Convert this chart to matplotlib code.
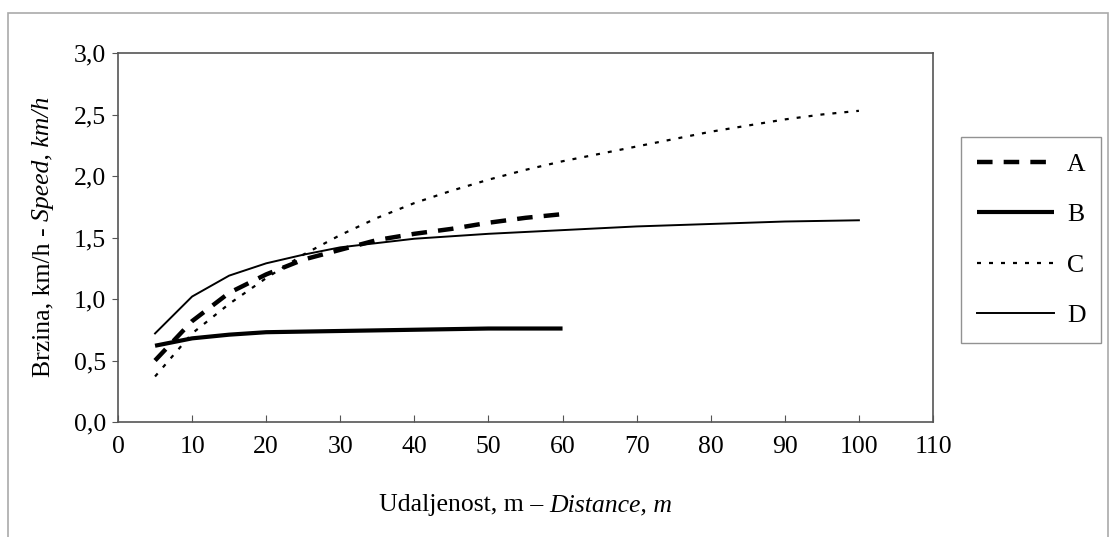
import matplotlib
matplotlib.use("Agg")
import matplotlib.pyplot as plt
from matplotlib.patches import Rectangle

plt.rcParams['font.family'] = ['Liberation Serif', 'DejaVu Serif']

x_a = [5, 10, 15, 20, 25, 30, 35, 40, 45, 50, 55, 60]
y_a = [0.50, 0.82, 1.05, 1.20, 1.32, 1.40, 1.48, 1.53, 1.57, 1.62, 1.66, 1.69]

x_b = [5, 10, 15, 20, 30, 40, 50, 60]
y_b = [0.62, 0.68, 0.71, 0.73, 0.74, 0.75, 0.76, 0.76]

x_c = [5, 10, 15, 20, 25, 30, 35, 40, 45, 50, 55, 60, 65, 70, 75, 80, 85, 90, 95, 100]
y_c = [0.37, 0.72, 0.96, 1.17, 1.36, 1.52, 1.66, 1.78, 1.88, 1.97, 2.05, 2.12,
       2.18, 2.24, 2.30, 2.36, 2.41, 2.46, 2.50, 2.53]

x_d = [5, 10, 15, 20, 25, 30, 40, 50, 60, 70, 80, 90, 100]
y_d = [0.72, 1.02, 1.19, 1.29, 1.36, 1.42, 1.49, 1.53, 1.56, 1.59, 1.61, 1.63, 1.64]

x_ticks = [0, 10, 20, 30, 40, 50, 60, 70, 80, 90, 100, 110]
y_ticks = [0.0, 0.5, 1.0, 1.5, 2.0, 2.5, 3.0]
y_tick_labels = ['0,0', '0,5', '1,0', '1,5', '2,0', '2,5', '3,0']
labels = ['A', 'B', 'C', 'D']

FS = 18.5
W, H = 1116, 537
fig = plt.figure(figsize=(W / 100, H / 100), dpi=100)
ax = fig.add_axes([118 / W, 1 - 422 / H, (933 - 118) / W, (422 - 53) / H])

la, = ax.plot(x_a, y_a, color='black', lw=3.2, dashes=(3.5, 2.5), dash_capstyle='butt')
lb, = ax.plot(x_b, y_b, color='black', lw=3.0, solid_capstyle='butt')
lc, = ax.plot(x_c, y_c, color='black', lw=1.6, dashes=(1.8, 3.6), dash_capstyle='butt')
ld, = ax.plot(x_d, y_d, color='black', lw=1.4)

ax.set_xlim(0, 110)
ax.set_ylim(0, 3.0)
ax.set_xticks(x_ticks)
ax.set_xticklabels([str(t) for t in x_ticks])
ax.set_yticks(y_ticks)
ax.set_yticklabels(y_tick_labels)
ax.tick_params(axis='x', direction='in', length=5, width=0.8, color='#555555',
               labelsize=FS, pad=10)
ax.tick_params(axis='y', direction='out', length=4, width=0.8, color='#555555',
               labelsize=FS, pad=4.5)
for s in ax.spines.values():
    s.set_color('#555555')
    s.set_linewidth(1.2)

# axis labels: upright part + italic part
xl1 = fig.text(0, 1 - 505 / H, 'Udaljenost, m – ', ha='left', va='center', fontsize=FS)
xl2 = fig.text(0, 1 - 505 / H, 'Distance, m', ha='left', va='center', fontsize=FS,
               style='italic')
yl1 = fig.text(43 / W, 0, 'Brzina, km/h - ', ha='center', va='bottom', rotation=90,
               fontsize=FS)
yl2 = fig.text(43 / W, 0, 'Speed, km/h', ha='center', va='bottom', rotation=90,
               fontsize=FS, style='italic')
fig.canvas.draw()
r = fig.canvas.get_renderer()
w1 = xl1.get_window_extent(r).width
w2 = xl2.get_window_extent(r).width
cx = (118 + 933) / 2
x0 = cx - (w1 + w2) / 2
xl1.set_x(x0 / W)
xl2.set_x((x0 + w1) / W)
h1 = yl1.get_window_extent(r).height
h2 = yl2.get_window_extent(r).height
cy = H - 237
y0 = cy - (h1 + h2) / 2
yl1.set_y(y0 / H)
yl2.set_y((y0 + h1) / H)

leg = fig.legend([la, lb, lc, ld], labels, loc='upper left',
                 bbox_to_anchor=(961 / W, 1 - 137 / H), bbox_transform=fig.transFigure,
                 fontsize=FS, frameon=True, fancybox=False, handlelength=3.0,
                 handletextpad=0.5, labelspacing=1.07, borderpad=0.62,
                 borderaxespad=0)
leg.get_frame().set_edgecolor('#777777')
leg.get_frame().set_linewidth(1.0)

fig.patches.append(Rectangle((8 / W, -0.02), (1108 - 8) / W, 1 - 13 / H + 0.02,
                             transform=fig.transFigure, fill=False,
                             edgecolor='#aaaaaa', lw=1.2))

fig.savefig('out.png', dpi=100)
